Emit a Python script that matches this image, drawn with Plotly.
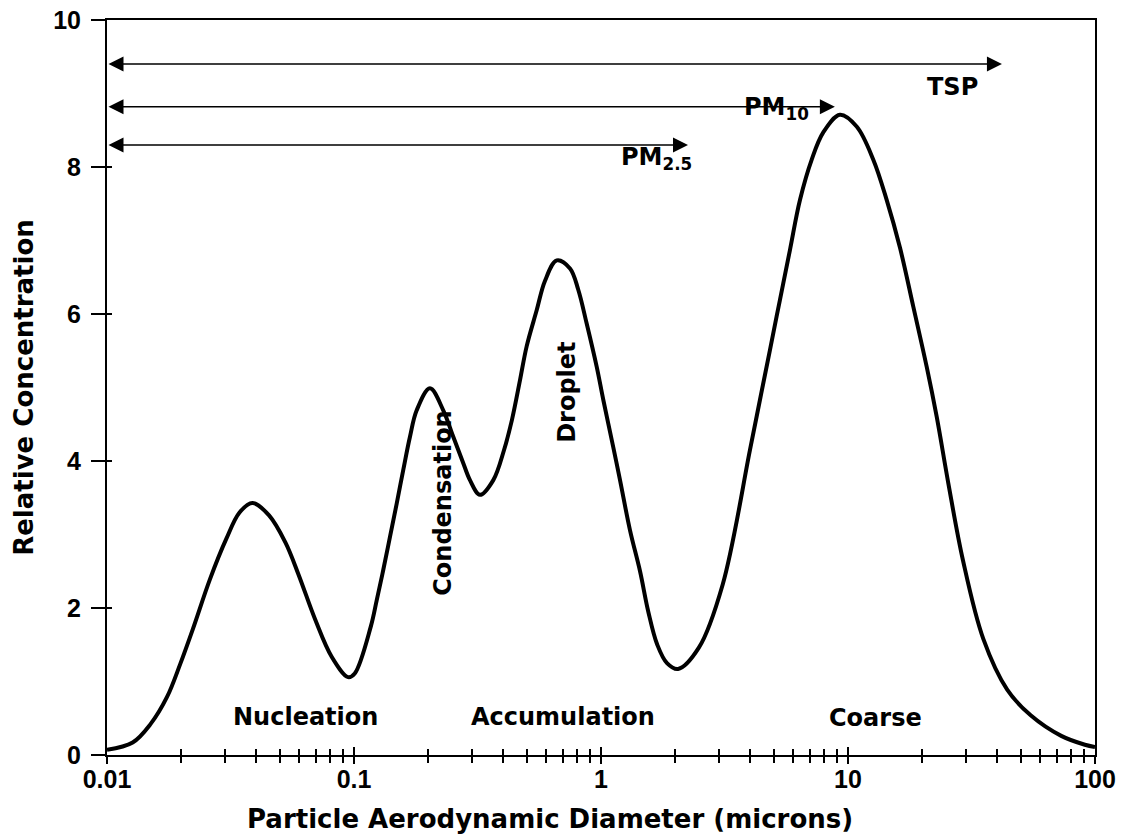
import math
import plotly.graph_objects as go

# ---- data ----
diameter = [0.01, 0.0127, 0.015, 0.0175, 0.0198, 0.0223, 0.0261, 0.0304, 0.0344, 0.0388,
            0.0453, 0.0528, 0.0597, 0.0697, 0.0811, 0.0946, 0.1007, 0.117, 0.1235, 0.1314,
            0.1399, 0.1489, 0.1583, 0.1685, 0.1794, 0.203, 0.2298, 0.2523, 0.2770, 0.2948,
            0.3236, 0.3664, 0.405, 0.436, 0.470, 0.500, 0.549, 0.593, 0.662, 0.749,
            0.809, 0.875, 0.961, 1.022, 1.121, 1.194, 1.310, 1.439, 1.554, 1.69,
            1.85, 2.05, 2.49, 3.11, 4.01, 4.40, 4.83, 5.30, 5.82, 6.39,
            7.13, 7.94, 9.28, 10.84, 12.66, 14.35, 16.24, 18.38, 20.83, 22.87,
            25.47, 29.2, 35.3, 44.1, 54.9, 73.0, 91.0, 100.0]
concentration = [0.07, 0.17, 0.42, 0.79, 1.24, 1.72, 2.39, 2.94, 3.30, 3.43,
                 3.26, 2.89, 2.45, 1.84, 1.34, 1.06, 1.11, 1.75, 2.10, 2.52,
                 2.97, 3.42, 3.88, 4.33, 4.69, 4.99, 4.69, 4.33, 3.97, 3.74,
                 3.54, 3.74, 4.15, 4.56, 5.10, 5.56, 6.05, 6.45, 6.73, 6.62,
                 6.33, 5.87, 5.28, 4.83, 4.19, 3.74, 3.06, 2.50, 1.95, 1.50,
                 1.25, 1.17, 1.46, 2.32, 4.15, 4.83, 5.51, 6.19, 6.87, 7.55,
                 8.10, 8.47, 8.71, 8.55, 8.10, 7.55, 6.90, 6.10, 5.28, 4.60,
                 3.70, 2.65, 1.58, 0.89, 0.54, 0.26, 0.14, 0.11]

# size-range arrows: label, start, end, level, label x, label y
range_names = ["TSP", "PM<sub>10</sub>", "PM<sub>2.5</sub>"]
range_start = [0.01, 0.01, 0.01]
range_end = [42.0, 8.85, 2.25]
range_level = [9.40, 8.82, 8.30]
range_label_x = [26.6, 5.15, 1.67]
range_label_y = [9.09, 8.80, 8.12]

# mode labels
mode_names = ["Nucleation", "Accumulation", "Coarse", "Condensation", "Droplet"]
mode_x = [0.0634, 0.701, 12.97, 0.229, 0.728]
mode_y = [0.52, 0.52, 0.50, 3.43, 4.94]
mode_angle = [0, 0, 0, -90, -90]

x_major = [0.01, 0.1, 1, 10, 100]
x_major_labels = ["0.01", "0.1", "1", "10", "100"]
x_minor = [m * d for d in [0.01, 0.1, 1, 10] for m in range(2, 10)]
y_ticks = [0, 2, 4, 6, 8, 10]

x_title = "Particle Aerodynamic Diameter (microns)"
y_title = "Relative Concentration"

WORD_FONT = "DejaVu Sans"
NUM_FONT = "Liberation Sans"

fig = go.Figure()
fig.add_trace(go.Scatter(
    x=diameter, y=concentration, mode="lines",
    line=dict(color="black", width=4, shape="spline", smoothing=1.0),
    showlegend=False, hoverinfo="x+y",
))
# helper trace so the overlaid tick axes render
fig.add_trace(go.Scatter(x=[x_major[0]], y=[y_ticks[0]], xaxis="x2", yaxis="y2",
                         mode="lines", showlegend=False, hoverinfo="skip",
                         line=dict(color="rgba(0,0,0,0)")))

for name, x0, x1, lvl, lx, ly in zip(range_names, range_start, range_end, range_level,
                                      range_label_x, range_label_y):
    fig.add_annotation(
        x=math.log10(x1), y=lvl, ax=math.log10(x0), ay=lvl,
        xref="x", yref="y", axref="x", ayref="y",
        text="", showarrow=True, arrowside="end+start",
        arrowhead=2, startarrowhead=2, arrowwidth=1.5,
        arrowsize=2.0, startarrowsize=2.0, arrowcolor="black",
        standoff=0, startstandoff=0,
    )
    fig.add_annotation(
        x=math.log10(lx), y=ly, xref="x", yref="y", text="<b>%s</b>" % name,
        showarrow=False, font=dict(family=WORD_FONT, size=24, color="black"),
    )

for name, mx, my, ang in zip(mode_names, mode_x, mode_y, mode_angle):
    fig.add_annotation(
        x=math.log10(mx), y=my, xref="x", yref="y", text="<b>%s</b>" % name,
        textangle=ang, showarrow=False,
        font=dict(family=WORD_FONT, size=24, color="black"),
    )

fig.add_annotation(
    x=(550 - 107) / 988, y=(755 - 819) / 735, xref="paper", yref="paper",
    text="<b>%s</b>" % x_title, showarrow=False, xanchor="center", yanchor="middle",
    font=dict(family=WORD_FONT, size=26, color="black"),
)

fig.update_layout(
    width=1125, height=839,
    margin=dict(l=107, r=30, t=20, b=84, autoexpand=False),
    paper_bgcolor="white", plot_bgcolor="white",
    xaxis=dict(
        type="log", range=[-2, 2], tickmode="array", tickvals=x_major, ticktext=x_major_labels,
        ticks="outside", ticklen=7, tickwidth=2, tickcolor="black",
        minor=dict(tickmode="array", tickvals=x_minor, ticks="outside", ticklen=6,
                   tickwidth=2, tickcolor="black", showgrid=False),
        showline=True, linecolor="black", linewidth=2, mirror=True,
        showgrid=False, zeroline=False, ticklabelstandoff=-6, automargin=False,
        tickfont=dict(family=NUM_FONT, size=25, color="black", weight="bold"),
    ),
    xaxis2=dict(
        type="log", range=[-2, 2], overlaying="x", anchor="y", side="bottom",
        tickmode="array", tickvals=x_major, ticks="inside", ticklen=8, tickwidth=2,
        tickcolor="black",
        minor=dict(tickmode="array", tickvals=x_minor, ticks="inside", ticklen=6,
                   tickwidth=2, tickcolor="black", showgrid=False),
        showticklabels=False, showline=False, showgrid=False, zeroline=False,
        automargin=False,
    ),
    yaxis=dict(
        range=[0, 10], tickmode="array", tickvals=y_ticks,
        ticks="outside", ticklen=14, tickwidth=2, tickcolor="black",
        showline=True, linecolor="black", linewidth=2, mirror=True,
        showgrid=False, zeroline=False, ticklabelstandoff=5, automargin=False,
        tickfont=dict(family=NUM_FONT, size=25, color="black", weight="bold"),
        title=dict(text="<b>%s</b>" % y_title, standoff=12,
                   font=dict(family=WORD_FONT, size=26, color="black")),
    ),
    yaxis2=dict(
        range=[0, 10], overlaying="y", anchor="x", side="left",
        tickmode="array", tickvals=y_ticks, ticks="inside", ticklen=5, tickwidth=2,
        tickcolor="black", showticklabels=False, showline=False, showgrid=False,
        zeroline=False, automargin=False,
    ),
)

fig.write_html("out.html")
